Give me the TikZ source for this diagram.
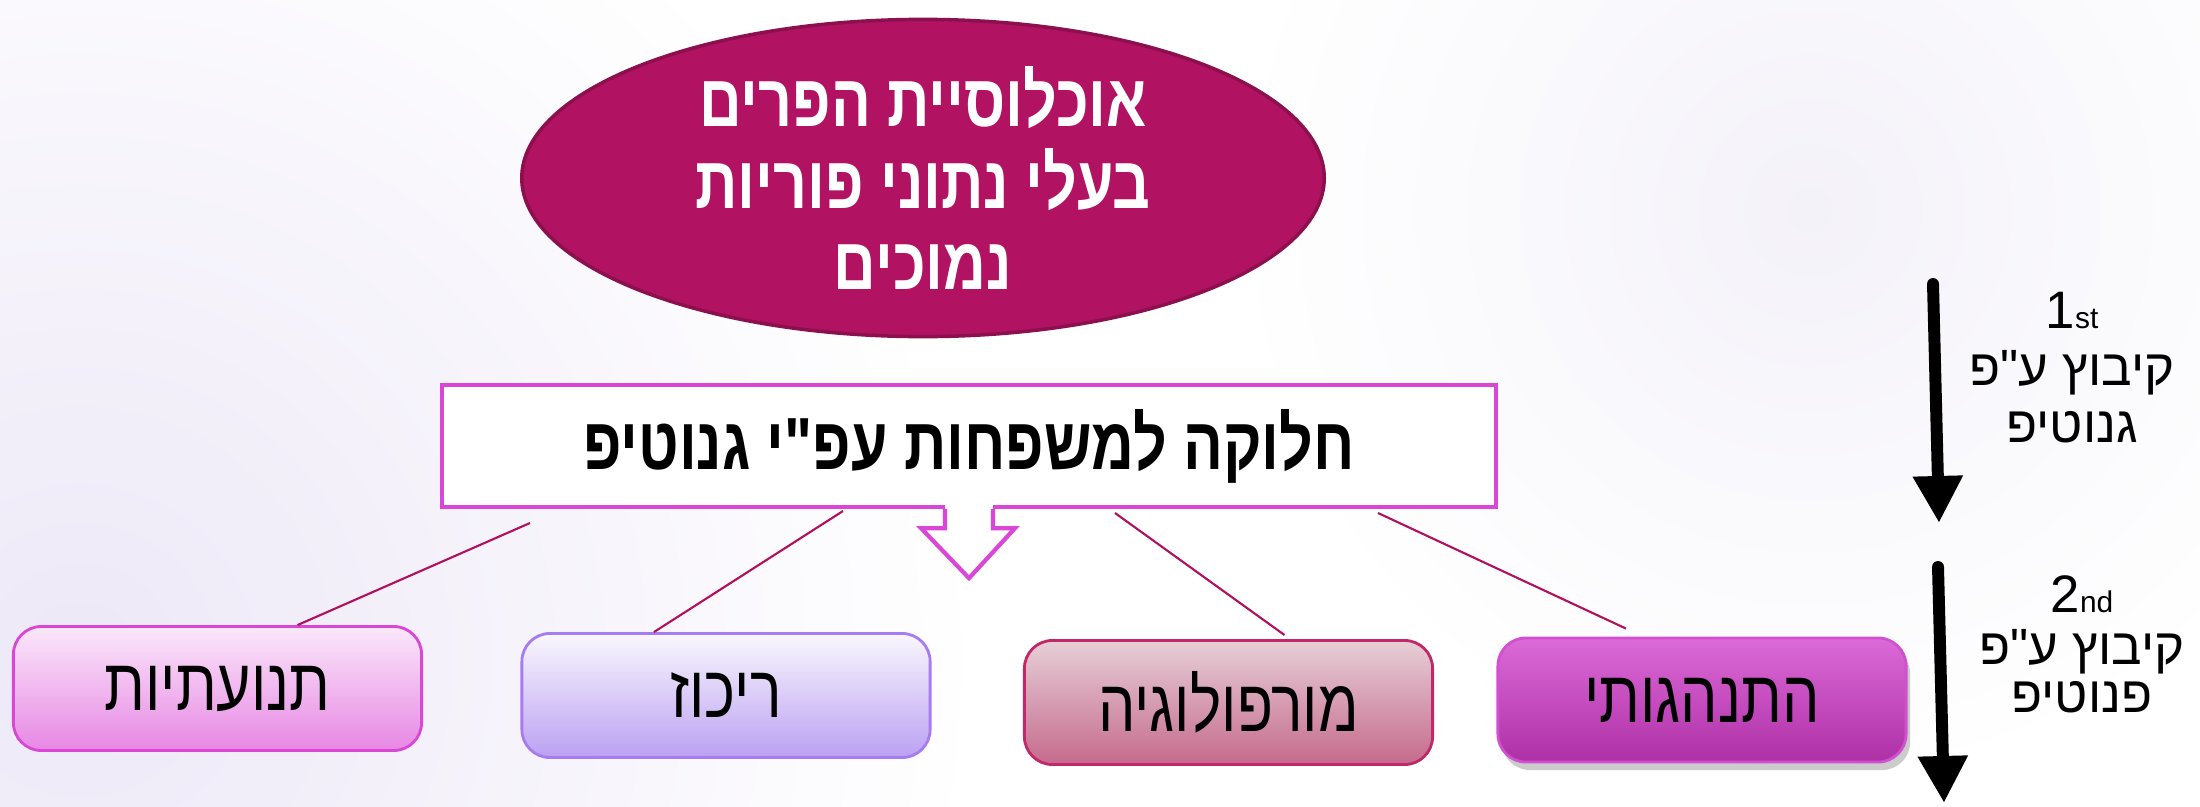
\documentclass[tikz,border=0pt]{standalone}
\usepackage{fontspec}
\usetikzlibrary{arrows.meta,shadows,calc,shapes.geometric}
\TeXXeTstate=1
\newfontfamily\hebn[Script=Hebrew,FakeStretch=0.8]{Liberation Sans}
\newfontfamily\hebs[Script=Hebrew]{Liberation Sans}
\definecolor{elfill}{HTML}{B21262}
\definecolor{eldraw}{HTML}{8C0F4E}
\definecolor{orch}{HTML}{DA47D6}
\definecolor{lnk}{HTML}{B0105E}
\definecolor{lav}{HTML}{EDE8F7}
\definecolor{lav2}{HTML}{F4F2F9}
\tikzset{
  catbox/.style={rectangle, rounded corners=0.28cm, minimum width=4.08cm, minimum height=1.24cm, inner sep=0pt, line width=0.8pt, font=\hebn\fontsize{21}{22}\selectfont},
  link/.style={draw=lnk, line width=0.6pt},
  bigarrow/.style={line width=3.4pt, line cap=round, -{Triangle[width=0.47cm,length=0.47cm]}},
  sidelab/.style={font=\hebs\fontsize{14.5}{15}\selectfont, inner sep=0pt}
}
\begin{document}
\begin{tikzpicture}[x={(0.01cm,0)}, y={(0,-0.01cm)}]
\fill[white] (0,0) rectangle (2200,806);
\useasboundingbox (0,0) rectangle (2200,806);
% background glows
\begin{scope}
\clip (0,0) rectangle (2200,806);
\shade[inner color=lav, outer color=white] (80,660) circle (900);
\shade[inner color=lav2, outer color=white] (1810,210) circle (580);
\end{scope}
% ellipse
\node[ellipse, fill=elfill, draw=eldraw, line width=1pt, minimum width=8.02cm, minimum height=3.17cm, inner sep=0pt, text=white, align=center, font=\hebn\bfseries\fontsize{21}{22}\selectfont] (el) at (923,178)
  {\beginR אוכלוסיית הפרים\endR\\[0.04cm]\beginR בעלי נתוני פוריות\endR\\[0.04cm]\beginR נמוכים\endR};
% genotype box
\node[rectangle, fill=white, draw=orch, line width=1.2pt, minimum width=10.54cm, minimum height=1.22cm, inner sep=0pt, font=\hebn\bfseries\fontsize{21}{22}\selectfont] (gb) at (969,446)
  {\beginR חלוקה למשפחות עפ"י גנוטיפ\endR};
% callout arrow
\fill[white] ($(gb.south)+(-24,-4)$) rectangle ($(gb.south)+(24,6)$);
\filldraw[fill=white, draw=orch, line width=1.2pt, line join=miter]
  ($(gb.south)+(-24,0)$) -- ($(gb.south)+(-24,19)$) -- ($(gb.south)+(-48,19)$) -- ($(gb.south)+(0,69)$)
  -- ($(gb.south)+(46,19)$) -- ($(gb.south)+(24,19)$) -- ($(gb.south)+(24,0)$);
% category boxes
\node[catbox, draw=orch, top color=white!30!orch!18, bottom color=orch!65] (b1) at (217.5,688.5) {\beginR תנועתיות\endR};
\node[catbox, draw={rgb,255:red,167;green,124;blue,240}, top color={rgb,255:red,249;green,247;blue,253}, bottom color={rgb,255:red,187;green,161;blue,242}] (b2) at (726,695.5) {\beginR ריכוז\endR};
\node[catbox, draw={rgb,255:red,192;green,40;blue,106}, top color={rgb,255:red,231;green,207;blue,215}, bottom color={rgb,255:red,197;green,106;blue,140}] (b3) at (1228.5,702.5) {\beginR מורפולוגיה\endR};
\node[catbox, draw={rgb,255:red,208;green,80;blue,208}, top color={rgb,255:red,220;green,106;blue,216}, bottom color={rgb,255:red,174;green,48;blue,166}, drop shadow={shadow xshift=0.04cm, shadow yshift=-0.08cm, opacity=0.4}] (b4) at (1702,700) {\beginR התנהגותי\endR};
% links
\coordinate (s1) at (530,523);
\coordinate (s2) at (843,511);
\coordinate (s3) at (1115,513);
\coordinate (s4) at (1378,513);
\draw[link] (s1) -- ([xshift=0.8cm]b1.north);
\draw[link] (s2) -- ([xshift=-0.72cm]b2.north);
\draw[link] (s3) -- ([xshift=0.56cm,yshift=0.04cm]b3.north);
\draw[link] (s4) -- ([xshift=-0.76cm,yshift=0.08cm]b4.north);
% big arrows
\coordinate (a1s) at (1933,284);
\coordinate (a1e) at (1939,523);
\coordinate (a2s) at (1938,567);
\coordinate (a2e) at (1944,803);
\draw[bigarrow] (a1s) -- (a1e);
\draw[bigarrow] (a2s) -- (a2e);
% side labels
\node[sidelab] (l1a) at (2072,310) {\fontsize{15}{15}\selectfont 1\fontsize{8.5}{8.5}\selectfont st};
\node[sidelab] (l1b) at (2072,373) {\beginR קיבוץ ע"פ\endR};
\node[sidelab] (l1c) at (2072,427) {\beginR גנוטיפ\endR};
\node[sidelab] (l2a) at (2082,594) {\fontsize{15}{15}\selectfont 2\fontsize{8.5}{8.5}\selectfont nd};
\node[sidelab] (l2b) at (2082,652) {\beginR קיבוץ ע"פ\endR};
\node[sidelab] (l2c) at (2082,697) {\beginR פנוטיפ\endR};
\end{tikzpicture}
\end{document}
